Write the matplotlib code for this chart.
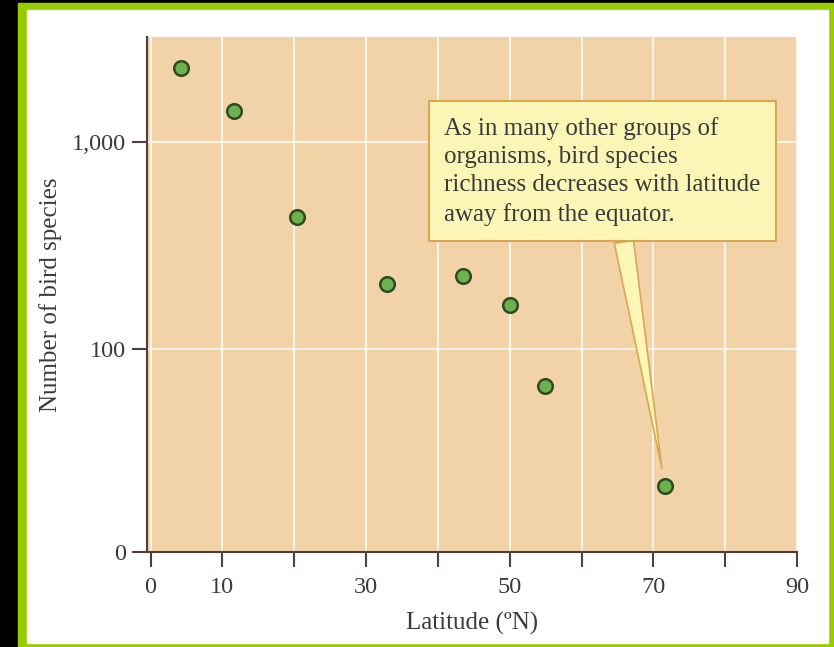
import matplotlib
matplotlib.use("Agg")
import matplotlib.pyplot as plt
from matplotlib.patches import Rectangle

# data (log scale on y)
latitude = [4.3, 11.6, 20.4, 32.9, 43.5, 50.1, 54.9, 71.6]
species = [2260, 1406, 435, 207, 226, 163, 66, 21.8]

x_ticks = [0, 10, 20, 30, 40, 50, 60, 70, 80, 90]
x_labels = ["0", "10", "", "30", "", "50", "", "70", "", "90"]
y_bottom = 10.5
y_ticks = [y_bottom, 100, 1000]
y_labels = ["0", "100", "1,000"]

note = ("As in many other groups of\n"
        "organisms, bird species\n"
        "richness decreases with latitude\n"
        "away from the equator.")

plt.rcParams["font.family"] = ["Liberation Serif", "DejaVu Serif"]
text_col = "#3a3a3a"
spine_col = "#4d4038"

fig = plt.figure(figsize=(8.34, 6.47), dpi=100, facecolor="black")

# green frame + white page
fig.patches.append(Rectangle((18 / 834, 0), 1 - 18 / 834, 644 / 647,
                             transform=fig.transFigure, color="#99cc00", zorder=-3))
fig.patches.append(Rectangle((27 / 834, 4 / 647), 801 / 834, 633 / 647,
                             transform=fig.transFigure, color="white", zorder=-2))

ax = fig.add_axes([147 / 834, 95 / 647, 650 / 834, 515 / 647])
ax.set_facecolor("#f1d3a7")

ax.scatter(latitude, species, s=110, color="#6cb24f", edgecolor="#2f4a22",
           linewidth=1.8, zorder=3)

ax.set_yscale("log")
ax.set_xlim(-0.5, 90)
ax.set_ylim(y_bottom, 3200)
ax.set_xticks(x_ticks)
ax.set_xticklabels(x_labels)
ax.set_yticks(y_ticks)
ax.set_yticklabels(y_labels)
ax.minorticks_off()

ax.grid(True, color="#fbf3e6", linewidth=1.5)
ax.set_axisbelow(True)

for side in ["top", "right"]:
    ax.spines[side].set_visible(False)
for side in ["left", "bottom"]:
    ax.spines[side].set_color(spine_col)
    ax.spines[side].set_linewidth(1.5)

ax.tick_params(axis="x", direction="out", length=11, width=1.5, color=spine_col,
               labelsize=17.5, labelcolor=text_col, pad=7)
ax.tick_params(axis="y", direction="out", length=11, width=1.5, color=spine_col,
               labelsize=17.5, labelcolor=text_col, pad=4)

ax.set_xlabel("Latitude (ºN)", fontsize=18, color=text_col, labelpad=10)
ax.set_ylabel("Number of bird species", fontsize=18, color=text_col, labelpad=7)

ax.annotate(note, xy=(latitude[-1], species[-1]), xycoords="data",
            xytext=(0.457, 0.845), textcoords="axes fraction",
            ha="left", va="top", fontsize=18, color=text_col, linespacing=1.36,
            bbox=dict(boxstyle="square,pad=0.62", facecolor="#fcf6b6",
                      edgecolor="#d9a653", linewidth=1.5),
            arrowprops=dict(arrowstyle="wedge,tail_width=0.7,shrink_factor=0.5",
                            facecolor="#fcf6b6", edgecolor="#d9a653",
                            linewidth=1.2, relpos=(0.56, 0.0),
                            shrinkA=0, shrinkB=13, mutation_scale=20),
            zorder=4)

fig.savefig("out.png", dpi=100, facecolor="black")
